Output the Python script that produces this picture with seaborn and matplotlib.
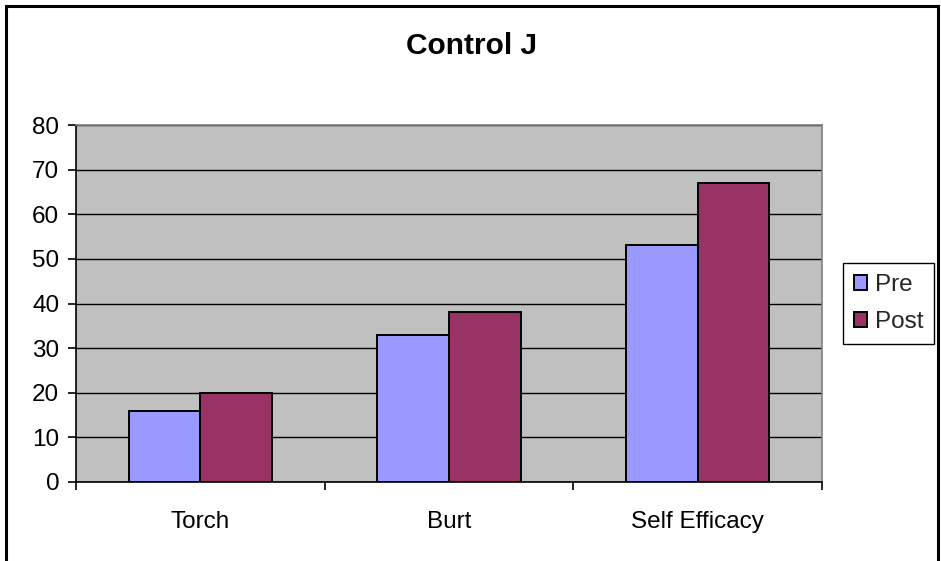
import matplotlib
matplotlib.use("Agg")
import matplotlib.pyplot as plt
import seaborn as sns
import pandas as pd
from matplotlib.ticker import FixedLocator
from matplotlib.patches import Rectangle

categories = ["Torch", "Burt", "Self Efficacy"]
pre_values = [16, 33, 53]
post_values = [20, 38, 67]
series_names = ["Pre", "Post"]
series_colors = ["#9999FF", "#993366"]
y_ticks = [0, 10, 20, 30, 40, 50, 60, 70, 80]
title = "Control J"

df = pd.DataFrame({
    "category": categories * 2,
    "value": pre_values + post_values,
    "series": [series_names[0]] * len(categories) + [series_names[1]] * len(categories),
})

sns.set_theme(style="white")
plt.rcParams["font.family"] = ["Liberation Sans", "DejaVu Sans"]

W, H = 941, 561
fig = plt.figure(figsize=(W / 100, H / 100), dpi=100)
fig.patch.set_facecolor("white")
ax = fig.add_axes([76 / W, 79 / H, 746 / W, 357 / H])

sns.barplot(
    data=df, x="category", y="value", hue="series",
    order=categories, hue_order=series_names, palette=series_colors,
    width=0.576, gap=0, saturation=1, errorbar=None,
    edgecolor="black", linewidth=1.4, ax=ax, zorder=3,
)

ax.set_facecolor("#C0C0C0")
ax.set_xlim(-0.5, len(categories) - 0.5)
ax.set_ylim(0, 80)
ax.set_yticks(y_ticks)
ax.set_xlabel("")
ax.set_ylabel("")

# horizontal gridlines behind the bars
ax.set_axisbelow(True)
ax.yaxis.grid(True, color="black", linewidth=1.0)
ax.xaxis.grid(False)

for side in ("left", "bottom"):
    ax.spines[side].set_color("black")
    ax.spines[side].set_linewidth(1.2)
for side in ("top", "right"):
    ax.spines[side].set_color("#808080")
    ax.spines[side].set_linewidth(1.2)

# tick marks between categories on the x axis
ax.xaxis.set_minor_locator(FixedLocator([i - 0.5 for i in range(len(categories) + 1)]))
ax.tick_params(axis="x", which="major", length=0, pad=21, labelsize=17.5, colors="black")
ax.tick_params(axis="x", which="minor", bottom=True, length=6, width=1.2, direction="out", color="black")
ax.tick_params(axis="y", which="major", left=True, length=6, width=1.2, direction="out",
               pad=6, labelsize=17.5, colors="black")

# legend box at the right
handles, labels = ax.get_legend_handles_labels()
if ax.legend_:
    ax.legend_.remove()
leg = fig.legend(
    handles, labels, loc="center left",
    bbox_to_anchor=(843 / W, 1 - 303.5 / H),
    frameon=True, fancybox=False, edgecolor="black", framealpha=1,
    fontsize=17.5, handlelength=0.55, handleheight=0.55, handletextpad=0.3,
    borderpad=0.45, labelspacing=0.6, borderaxespad=0,
)
leg.get_frame().set_linewidth(1.0)

fig.text(472 / W, 1 - 46 / H, title, ha="center", va="center",
         fontsize=21.5, fontweight="bold", color="black")

# outer chart border (open at the bottom edge of the image)
fig.patches.append(Rectangle((6 / W, -0.2), 932 / W, 1.2 - 6 / H, fill=False,
                             edgecolor="black", linewidth=2.2,
                             transform=fig.transFigure, figure=fig))

fig.savefig("out.png", dpi=100)
